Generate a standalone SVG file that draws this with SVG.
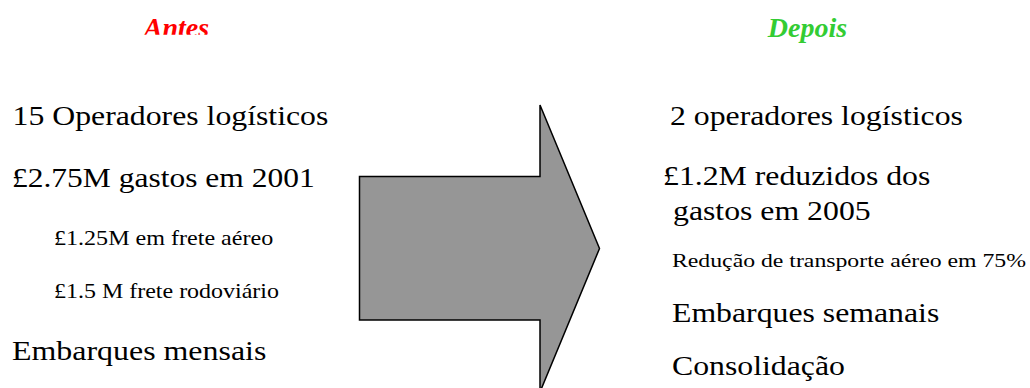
<svg xmlns="http://www.w3.org/2000/svg" width="1030" height="388" viewBox="0 0 1030 388">
<defs>
<style>
.t{font-family:"Liberation Serif","Times New Roman",serif;fill:#000}
.h{font-weight:bold;font-style:italic;font-size:28px;text-anchor:middle}
.big{font-size:28px}
.sm{font-size:22px}
.xs{font-size:19px}
</style>
<clipPath id="clipA"><rect x="0" y="0" width="400" height="34.8"/></clipPath>
</defs>
<rect width="1030" height="388" fill="#fff"/>
<g id="arrow">
<polygon points="359.5,176.5 540,176.5 540,105 599.5,248.5 540,392 540,320 359.5,320" fill="#969696" stroke="#000" stroke-width="1.5" stroke-linejoin="miter"/>
</g>
<g id="antes">
<text class="t h" x="176.5" y="37" style="fill:#ff0000" clip-path="url(#clipA)">Antes</text>
<g transform="translate(12.5,125) scale(1.135,1)"><text class="t big" x="0" y="0">15 Operadores logísticos</text></g>
<g transform="translate(12,186.5) scale(1.125,1)"><text class="t big" x="0" y="0">£2.75M gastos em 2001</text></g>
<g transform="translate(54,245) scale(1.095,1)"><text class="t sm" x="0" y="0">£1.25M em frete aéreo</text></g>
<g transform="translate(54,298) scale(1.09,1)"><text class="t sm" x="0" y="0">£1.5 M frete rodoviário</text></g>
<g transform="translate(12,360) scale(1.14,1)"><text class="t big" x="0" y="0">Embarques mensais</text></g>
</g>
<g id="depois">
<text class="t h" x="807.5" y="37" style="fill:#33cc33">Depois</text>
<g transform="translate(670,125) scale(1.135,1)"><text class="t big" x="0" y="0">2 operadores logísticos</text></g>
<g transform="translate(663,185) scale(1.135,1)"><text class="t big" x="0" y="0">£1.2M reduzidos dos</text></g>
<g transform="translate(673,220) scale(1.135,1)"><text class="t big" x="0" y="0">gastos em 2005</text></g>
<g transform="translate(672,267) scale(1.25,1)"><text class="t xs" x="0" y="0">Redução de transporte aéreo em 75%</text></g>
<g transform="translate(672,322) scale(1.135,1)"><text class="t big" x="0" y="0">Embarques semanais</text></g>
<g transform="translate(672,375) scale(1.135,1)"><text class="t big" x="0" y="0">Consolidação</text></g>
</g>
</svg>
